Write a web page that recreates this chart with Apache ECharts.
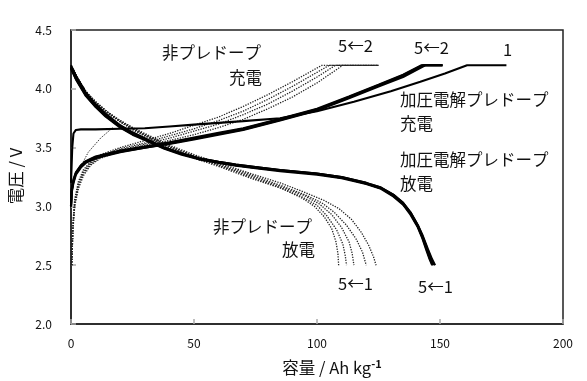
<!DOCTYPE html>
<html><head><meta charset="utf-8">
<script src="https://cdn.jsdelivr.net/npm/echarts@6/dist/echarts.min.js"></script>
<style>html,body{margin:0;padding:0;background:#fff}#c{width:587px;height:381px}</style>
</head><body><div id="c"></div>
<script>
// Axis ticks
const xTicks = [0, 50, 100, 150, 200];
const yTicks = [2.0, 2.5, 3.0, 3.5, 4.0, 4.5];

// 加圧電解プレドープ 充電 cycle 1 [capacity, voltage]
const preCharge1 = [[0,3.2],[0.5,3.5],[1,3.62],[2,3.65],[4,3.655],[10,3.655],[20,3.66],[30,3.665],[40,3.68],[50,3.695],[60,3.71],[70,3.725],[85,3.75],[100,3.81],[115,3.89],[130,3.98],[142,4.06],[152,4.13],[161,4.2],[177,4.2]];
// 加圧電解プレドープ 充電 cycles 2-5
const preCharge2 = [[0,3.0],[0.3,3.12],[1,3.2],[2,3.27],[4,3.33],[6,3.37],[10,3.41],[20,3.46],[30,3.50],[40,3.53],[50,3.57],[60,3.61],[70,3.65],[85,3.73],[100,3.815],[113,3.92],[125,4.02],[135,4.10],[144,4.2],[151,4.2]];
const preCharge3 = [[0,3.0],[0.3,3.13],[1,3.21],[2,3.28],[4,3.34],[6,3.375],[10,3.415],[20,3.465],[30,3.50],[40,3.535],[50,3.575],[60,3.615],[70,3.655],[85,3.735],[100,3.82],[113,3.925],[125,4.025],[135,4.11],[143.5,4.2],[151,4.2]];
const preCharge4 = [[0,3.0],[0.3,3.14],[1,3.22],[2,3.285],[4,3.345],[6,3.38],[10,3.42],[20,3.47],[30,3.505],[40,3.54],[50,3.58],[60,3.62],[70,3.66],[85,3.74],[100,3.825],[113,3.93],[125,4.03],[135,4.115],[143,4.2],[151,4.2]];
const preCharge5 = [[0,3.0],[0.3,3.15],[1,3.23],[2,3.29],[4,3.35],[6,3.385],[10,3.425],[20,3.475],[30,3.51],[40,3.545],[50,3.585],[60,3.625],[70,3.665],[85,3.745],[100,3.83],[113,3.935],[125,4.035],[135,4.12],[142.5,4.2],[151,4.2]];

// 加圧電解プレドープ 放電 cycles 1-5
const preDis1 = [[0,4.2],[2,4.11],[6,3.97],[10,3.87],[14,3.79],[20,3.69],[25,3.63],[30,3.58],[38,3.50],[45,3.45],[52,3.41],[60,3.38],[67,3.355],[75,3.335],[85,3.31],[100,3.28],[110,3.25],[120,3.20],[126,3.16],[131,3.10],[135,3.03],[138,2.95],[141,2.84],[143,2.75],[145,2.64],[146.8,2.55],[148,2.5]];
const preDis2 = [[0,4.19],[2,4.10],[6,3.96],[10,3.86],[14,3.78],[20,3.685],[25,3.625],[30,3.575],[38,3.50],[45,3.45],[52,3.41],[60,3.38],[67,3.355],[75,3.335],[85,3.31],[100,3.28],[110,3.25],[120,3.20],[126,3.16],[131,3.10],[135,3.03],[138,2.95],[141,2.84],[143,2.74],[145,2.63],[146.5,2.55],[147.5,2.5]];
const preDis3 = [[0,4.18],[2,4.09],[6,3.95],[10,3.855],[14,3.775],[20,3.68],[25,3.62],[30,3.57],[38,3.495],[45,3.445],[52,3.405],[60,3.375],[67,3.35],[75,3.33],[85,3.305],[100,3.275],[110,3.245],[120,3.195],[126,3.155],[131,3.095],[135,3.02],[138,2.94],[141,2.83],[143,2.73],[145,2.62],[146.2,2.55],[147.2,2.5]];
const preDis4 = [[0,4.18],[2,4.085],[6,3.945],[10,3.85],[14,3.77],[20,3.675],[25,3.615],[30,3.57],[38,3.495],[45,3.445],[52,3.405],[60,3.375],[67,3.35],[75,3.33],[85,3.305],[100,3.275],[110,3.245],[120,3.195],[126,3.155],[131,3.09],[135,3.02],[138,2.94],[141,2.83],[143,2.73],[144.8,2.62],[146,2.55],[147,2.5]];
const preDis5 = [[0,4.17],[2,4.08],[6,3.94],[10,3.845],[14,3.765],[20,3.67],[25,3.61],[30,3.565],[38,3.49],[45,3.44],[52,3.40],[60,3.37],[67,3.345],[75,3.325],[85,3.30],[100,3.27],[110,3.24],[120,3.19],[126,3.15],[131,3.085],[135,3.015],[138,2.93],[140.8,2.83],[142.8,2.73],[144.6,2.62],[145.8,2.55],[146.8,2.5]];

// 非プレドープ 充電 cycle 1 (partial) and cycles 2-5
const nonCharge1 = [[3,3.3],[7,3.46],[12,3.58],[17,3.67]];
const nonCharge2 = [[0.3,2.5],[0.8,2.8],[1.5,3.0],[3,3.15],[5,3.26],[8,3.35],[12,3.41],[20,3.47],[30,3.52],[40,3.56],[50,3.61],[60,3.67],[70,3.74],[80,3.83],[90,3.93],[100,4.05],[110.5,4.2],[125,4.2]];
const nonCharge3 = [[0.3,2.5],[0.8,2.82],[1.5,3.02],[3,3.17],[5,3.28],[8,3.36],[12,3.42],[20,3.48],[30,3.53],[40,3.58],[50,3.64],[60,3.70],[70,3.78],[80,3.87],[90,3.98],[100,4.10],[107.5,4.2],[125,4.2]];
const nonCharge4 = [[0.3,2.5],[0.8,2.84],[1.5,3.04],[3,3.19],[5,3.29],[8,3.37],[12,3.43],[20,3.49],[30,3.54],[40,3.60],[50,3.66],[60,3.73],[70,3.81],[80,3.91],[90,4.02],[100,4.14],[105,4.2],[125,4.2]];
const nonCharge5 = [[0.3,2.5],[0.8,2.86],[1.5,3.06],[3,3.21],[5,3.31],[8,3.38],[12,3.44],[20,3.50],[30,3.56],[40,3.62],[50,3.69],[60,3.76],[70,3.85],[80,3.95],[90,4.06],[102,4.2],[125,4.2]];

// 非プレドープ 放電 cycles 1-5
const nonDis1 = [[0,4.2],[3,4.08],[6,3.98],[10,3.89],[15,3.80],[20,3.73],[25,3.67],[30,3.62],[40,3.52],[50,3.44],[60,3.37],[73,3.28],[85,3.20],[95,3.12],[103,3.05],[109,2.98],[114,2.89],[118,2.78],[121,2.67],[123,2.57],[124,2.5]];
const nonDis2 = [[0,4.2],[3,4.08],[6,3.98],[10,3.89],[15,3.80],[20,3.73],[25,3.67],[30,3.61],[40,3.51],[50,3.43],[60,3.36],[73,3.27],[85,3.18],[95,3.10],[102,3.03],[107,2.95],[112,2.84],[116,2.72],[118.5,2.61],[120,2.5]];
const nonDis3 = [[0,4.2],[3,4.08],[6,3.97],[10,3.88],[15,3.80],[20,3.72],[25,3.66],[30,3.61],[40,3.51],[50,3.43],[60,3.35],[73,3.26],[85,3.17],[95,3.09],[101,3.02],[106,2.93],[110,2.82],[113,2.70],[114.3,2.6],[115,2.5]];
const nonDis4 = [[0,4.2],[3,4.07],[6,3.97],[10,3.88],[15,3.79],[20,3.72],[25,3.66],[30,3.60],[40,3.50],[50,3.42],[60,3.35],[73,3.25],[85,3.16],[94,3.08],[100,3.01],[104,2.92],[108,2.80],[110.5,2.68],[111.5,2.58],[112,2.5]];
const nonDis5 = [[0,4.2],[3,4.07],[6,3.97],[10,3.88],[15,3.79],[20,3.72],[25,3.65],[30,3.60],[40,3.50],[50,3.41],[60,3.34],[73,3.24],[86,3.15],[94,3.07],[99,3.00],[103,2.91],[106,2.81],[107.7,2.7],[108.5,2.6],[108.8,2.5]];

const JP = '"Noto Sans CJK JP", "Noto Sans", sans-serif';

function solid(d){ return {type:'line', data:d, showSymbol:false, symbol:'none', lineStyle:{color:'#000', width:2.1}, z:3}; }
function dotted(d, w){ return {type:'line', data:d, showSymbol:false, symbol:'none', lineStyle:{color:'#222', width:w||1.3, type:[1.3,1.3]}, z:2}; }

const series = [
  ...[nonDis1,nonDis2,nonDis3,nonDis4,nonDis5].map(d=>dotted(d)),
  ...[nonCharge2,nonCharge3,nonCharge4,nonCharge5].map(d=>dotted(d)),
  dotted(nonCharge1, 1),
  ...[preDis1,preDis2,preDis3,preDis4,preDis5].map(solid),
  ...[preCharge2,preCharge3,preCharge4,preCharge5].map(solid),
  solid(preCharge1)
];

function txt(s, x, y){
  return {type:'text', x:x, y:y, silent:true, style:{text:s, font:'16.5px '+JP, fill:'#111', textAlign:'left', textVerticalAlign:'middle'}};
}

const chart = echarts.init(document.getElementById('c'), null, {renderer:'canvas'});
chart.setOption({
  animation:false,
  backgroundColor:'#fff',
  grid:{left:71, right:24, top:30, bottom:57, show:true, borderColor:'#222', borderWidth:1.5, backgroundColor:'transparent'},
  xAxis:{type:'value', min:xTicks[0], max:xTicks[xTicks.length-1], interval:50,
    axisLine:{show:true, lineStyle:{color:'#222', width:1.5}},
    axisTick:{show:true, inside:true, length:5, lineStyle:{color:'#aaa', width:1.5}},
    splitLine:{show:false},
    axisLabel:{margin:13, color:'#111', fontSize:12, fontFamily:JP}},
  yAxis:{type:'value', min:yTicks[0], max:yTicks[yTicks.length-1], interval:0.5,
    axisLine:{show:true, lineStyle:{color:'#222', width:1.5}},
    axisTick:{show:true, inside:true, length:5, lineStyle:{color:'#aaa', width:1.5}},
    splitLine:{show:false},
    axisLabel:{margin:19, color:'#111', fontSize:12, fontFamily:JP, formatter:v=>v.toFixed(1)}},
  series: series,
  graphic:[
    txt('非プレドープ', 162, 53),
    txt('充電', 229, 78),
    txt('5←2', 338, 46),
    txt('5←2', 414, 48),
    txt('1', 503, 50),
    txt('加圧電解プレドープ', 400, 100),
    txt('充電', 400, 124),
    txt('加圧電解プレドープ', 400, 160),
    txt('放電', 400, 184),
    txt('非プレドープ', 213, 227),
    txt('放電', 282, 250),
    txt('5←1', 338, 284),
    txt('5←1', 418, 287),
    {type:'text', x:16, y:176, rotation:Math.PI/2, silent:true,
      style:{text:'電圧 / V', font:'16.5px '+JP, fill:'#111', textAlign:'center', textVerticalAlign:'middle'}},
    {type:'text', x:332, y:368, silent:true,
      style:{text:'容量 / Ah kg{sup|-1}', font:'16.5px '+JP, fill:'#111', textAlign:'center', textVerticalAlign:'middle',
        rich:{sup:{fontSize:11, fontWeight:'bold', fontFamily:JP, fill:'#111', verticalAlign:'top', padding:[0,0,8,0]}}}}
  ]
});
</script></body></html>
